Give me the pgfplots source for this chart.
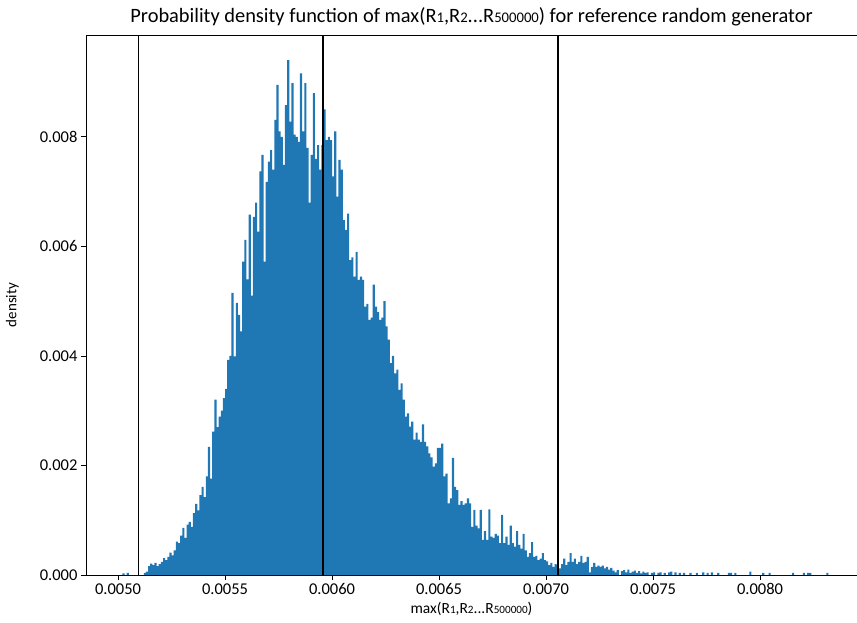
\documentclass[border=0pt]{standalone}
\usepackage{fontspec}
\setmainfont{Carlito}
\usepackage{graphicx}
\usepackage{pgfplots}
\pgfplotsset{compat=1.18}
\definecolor{mplblue}{HTML}{1F77B4}
\newcommand\sm[1]{\scalebox{0.72}{#1}}
\pgfplotstableread{
x y
0.00502 0.00003
0.00503 0
0.00504 0.00004
0.00505 0
0.00512 0.00004
0.00513 0.00006
0.00514 0.00016
0.00515 0.00021
0.00516 0.00018
0.00517 0.00022
0.00518 0.00016
0.00519 0.00020
0.00520 0.00024
0.00521 0.00031
0.00522 0.00027
0.00523 0.00033
0.00524 0.00041
0.00525 0.00036
0.00526 0.00045
0.00527 0.00061
0.00528 0.00058
0.00529 0.00072
0.00530 0.00086
0.00531 0.00068
0.00532 0.00092
0.00533 0.00097
0.00534 0.00088
0.00535 0.00113
0.00536 0.00130
0.00537 0.00118
0.00538 0.00146
0.00539 0.00161
0.00540 0.00142
0.00541 0.00180
0.00542 0.00234
0.00543 0.00176
0.00544 0.00262
0.00545 0.00320
0.00546 0.00270
0.00547 0.00289
0.00548 0.00300
0.00549 0.00323
0.00550 0.00340
0.00551 0.00393
0.00552 0.00400
0.00553 0.00515
0.00554 0.00399
0.00555 0.00497
0.00556 0.00475
0.00557 0.00445
0.00558 0.00572
0.00559 0.00612
0.00560 0.00540
0.00561 0.00658
0.00562 0.00510
0.00563 0.00654
0.00564 0.00680
0.00565 0.00627
0.00566 0.00737
0.00567 0.00767
0.00568 0.00572
0.00569 0.00718
0.00570 0.00755
0.00571 0.00776
0.00572 0.00740
0.00573 0.00831
0.00574 0.00895
0.00575 0.00810
0.00576 0.00800
0.00577 0.00749
0.00578 0.00858
0.00579 0.00940
0.00580 0.00828
0.00581 0.00898
0.00582 0.00804
0.00583 0.00800
0.00584 0.00791
0.00585 0.00916
0.00586 0.00810
0.00587 0.00898
0.00588 0.00780
0.00589 0.00680
0.00590 0.00767
0.00591 0.00880
0.00592 0.00760
0.00593 0.00785
0.00594 0.00740
0.00595 0.00785
0.00596 0.00850
0.00597 0.00794
0.00598 0.00800
0.00599 0.00794
0.00600 0.00728
0.00601 0.00810
0.00602 0.00691
0.00603 0.00758
0.00604 0.00740
0.00605 0.00648
0.00606 0.00630
0.00607 0.00660
0.00608 0.00575
0.00609 0.00580
0.00610 0.00545
0.00611 0.00590
0.00612 0.00539
0.00613 0.00545
0.00614 0.00539
0.00615 0.00490
0.00616 0.00495
0.00617 0.00466
0.00618 0.00470
0.00619 0.00530
0.00620 0.00490
0.00621 0.00480
0.00622 0.00466
0.00623 0.00470
0.00624 0.00500
0.00625 0.00454
0.00626 0.00430
0.00627 0.00387
0.00628 0.00400
0.00629 0.00368
0.00630 0.00375
0.00631 0.00338
0.00632 0.00350
0.00633 0.00320
0.00634 0.00289
0.00635 0.00295
0.00636 0.00271
0.00637 0.00280
0.00638 0.00247
0.00639 0.00260
0.00640 0.00247
0.00641 0.00243
0.00642 0.00275
0.00643 0.00243
0.00644 0.00235
0.00645 0.00222
0.00646 0.00215
0.00647 0.00198
0.00648 0.00204
0.00649 0.00232
0.00650 0.00232
0.00651 0.00240
0.00652 0.00180
0.00653 0.00185
0.00654 0.00131
0.00655 0.00140
0.00656 0.00214
0.00657 0.00161
0.00658 0.00155
0.00659 0.00128
0.00660 0.00135
0.00661 0.00128
0.00662 0.00131
0.00663 0.00140
0.00664 0.00131
0.00665 0.00088
0.00666 0.00119
0.00667 0.00090
0.00668 0.00085
0.00669 0.00119
0.00670 0.00064
0.00671 0.00080
0.00672 0.00064
0.00673 0.00120
0.00674 0.00070
0.00675 0.00068
0.00676 0.00075
0.00677 0.00072
0.00678 0.00058
0.00679 0.00110
0.00680 0.00058
0.00681 0.00070
0.00682 0.00055
0.00683 0.00090
0.00684 0.00058
0.00685 0.00052
0.00686 0.00080
0.00687 0.00055
0.00688 0.00048
0.00689 0.00075
0.00690 0.00045
0.00691 0.00033
0.00692 0.00040
0.00693 0.00060
0.00694 0.00033
0.00695 0.00035
0.00696 0.00027
0.00697 0.00030
0.00698 0.00040
0.00699 0.00027
0.00700 0.00025
0.00701 0.00018
0.00702 0.00022
0.00703 0.00015
0.00704 0.00020
0.00705 0.00018
0.00706 0.00012
0.00707 0.00020
0.00708 0.00030
0.00709 0.00018
0.00710 0.00024
0.00711 0.00040
0.00712 0.00024
0.00713 0.00030
0.00714 0.00020
0.00715 0.00024
0.00716 0.00035
0.00717 0.00022
0.00718 0.00024
0.00719 0.00033
0.00720 0.00005
0.00721 0.00015
0.00722 0.00022
0.00723 0.00015
0.00724 0.00017
0.00725 0.00015
0.00726 0.00017
0.00727 0.00012
0.00728 0.00015
0.00729 0.00010
0.00730 0.00013
0.00731 0.00008
0.00732 0.00005
0.00733 0.00009
0.00734 0
0.00735 0.00007
0.00736 0.00009
0.00737 0.00005
0.00738 0.00010
0.00739 0.00004
0.00740 0.00006
0.00741 0.00008
0.00742 0.00004
0.00743 0.00007
0.00744 0.00003
0.00745 0.00006
0.00746 0.00004
0.00747 0.00005
0.00748 0
0.00749 0.00004
0.00750 0.00005
0.00751 0
0.00752 0.00004
0.00753 0.00005
0.00754 0
0.00755 0.00004
0.00756 0
0.00757 0.00005
0.00758 0.00006
0.00759 0
0.00760 0.00005
0.00761 0
0.00762 0.00004
0.00763 0
0.00764 0.00004
0.00765 0
0.00767 0.00004
0.00768 0
0.00770 0.00004
0.00771 0
0.00773 0.00005
0.00774 0
0.00775 0.00004
0.00776 0
0.00777 0.00005
0.00778 0
0.00780 0.00004
0.00781 0
0.00785 0.00004
0.00786 0.00004
0.00787 0
0.00788 0.00004
0.00789 0
0.00795 0.00006
0.00796 0
0.00801 0.00004
0.00802 0
0.00804 0.00004
0.00805 0
0.00815 0.00004
0.00816 0
0.00820 0.00004
0.00821 0
0.00822 0.00004
0.00823 0.00004
0.00824 0
0.00831 0.00004
0.00832 0
}\histdata
\begin{document}
\begin{tikzpicture}
\begin{axis}[name=ax,
  scale only axis, width=771pt, height=540pt,
  xmin=0.00485, xmax=0.0084533, ymin=0, ymax=0.00986,
  axis x line*=bottom, axis y line*=left,
  axis line style={line width=0.8pt, -},
  tick align=outside, major tick length=5pt,
  tick style={black, line width=0.8pt},
  xtick={0.005,0.0055,0.006,0.0065,0.007,0.0075,0.008},
  ytick={0,0.002,0.004,0.006,0.008},
  scaled ticks=false,
  /pgf/number format/assume math mode=true,
  xticklabel style={/pgf/number format/.cd, fixed, fixed zerofill, precision=4, /tikz/.cd, font=\fontsize{16.5}{16.5}\selectfont},
  yticklabel style={/pgf/number format/.cd, fixed, fixed zerofill, precision=3, /tikz/.cd, font=\fontsize{16.5}{16.5}\selectfont},
  title={Probability density function of max(R\sm{1},R\sm{2}...R\sm{500000}) for reference random generator},
  title style={font=\fontsize{20.4}{22}\selectfont, yshift=-1pt},
  xlabel={max(R\sm{1},R\sm{2}...R\sm{500000})},
  ylabel={density},
  xlabel style={font=\fontsize{15.5}{17}\selectfont},
  ylabel style={font=\fontsize{15}{17}\selectfont, at={(axis description cs:-0.0955,0.5)}, anchor=center},
]
\addplot[const plot mark left, fill=mplblue, draw=none] table {\histdata} \closedcycle;
\addplot[black, line width=1.8pt] coordinates {(0.005095,0) (0.005095,0.00986)};
\addplot[black, line width=1.8pt] coordinates {(0.005957,0) (0.005957,0.00986)};
\addplot[black, line width=1.8pt] coordinates {(0.007057,0) (0.007057,0.00986)};
\draw[line width=0.8pt] (rel axis cs:0,1) -- (rel axis cs:1,1);
\end{axis}
\pgfresetboundingbox
\path ([xshift=-86pt,yshift=-47pt]ax.south west) rectangle ([yshift=35pt]ax.north east);
\end{tikzpicture}
\end{document}
